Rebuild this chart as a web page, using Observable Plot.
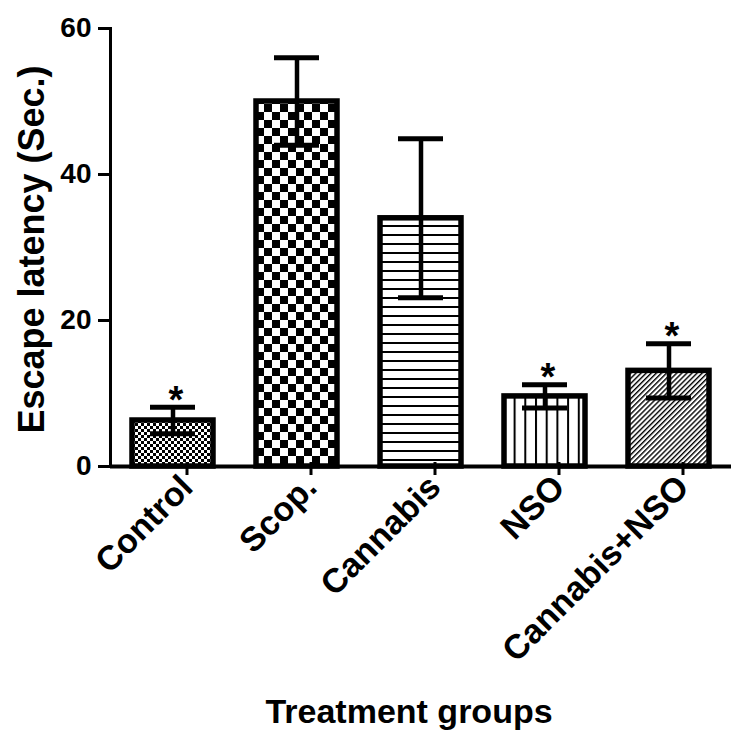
<!DOCTYPE html>
<html>
<head>
<meta charset="utf-8">
<script src="https://cdn.jsdelivr.net/npm/d3@7"></script>
<script src="https://cdn.jsdelivr.net/npm/@observablehq/plot@0.6"></script>
<style>
  html, body { margin: 0; padding: 0; background: #fff; }
</style>
</head>
<body>
<div id="chart"></div>
<script>
// ---- data ----
const groups = ["Control", "Scop.", "Cannabis", "NSO", "Cannabis+NSO"];
const means = [6.3, 50.0, 34.0, 9.6, 13.1];
const errors = [1.8, 6.0, 10.9, 1.6, 3.7];
const significant = [true, false, false, true, true];
const yTicks = [0, 20, 40, 60];
const yTitle = "Escape latency (Sec.)";
const xTitle = "Treatment groups";

const rows = groups.map((g, i) => ({ group: g, mean: means[i], err: errors[i], sig: significant[i], pat: `pat${i}` }));

const font = "'Liberation Sans', Arial, Helvetica, sans-serif";

const marks = [];
rows.forEach(r => {
  marks.push(Plot.barY([r], { x: "group", y: "mean", fill: `url(#${r.pat})`, stroke: "black", strokeWidth: 5.5 }));
});
marks.push(
  Plot.ruleY([0], { stroke: "black", strokeWidth: 4 }),
  Plot.frame({ anchor: "left", stroke: "black", strokeWidth: 3 }),
  Plot.ruleX(rows, { x: "group", y1: d => d.mean - d.err, y2: d => d.mean + d.err, stroke: "black", strokeWidth: 4.5 }),
  Plot.tickY(rows, { x: "group", y: d => d.mean + d.err, stroke: "black", strokeWidth: 5, insetLeft: 18, insetRight: 18 }),
  Plot.tickY(rows, { x: "group", y: d => d.mean - d.err, stroke: "black", strokeWidth: 5, insetLeft: 18, insetRight: 18 }),
  Plot.text(rows.filter(d => d.sig), { x: "group", y: d => d.mean + d.err, text: () => "*", fontSize: 38, dx: 3, dy: -7, fill: "black" }),
  Plot.axisY({ ticks: yTicks, tickSize: 12, tickPadding: 7, fontSize: 28, strokeWidth: 3, label: null, tickFormat: d => String(d) }),
  Plot.axisX({ tickSize: 13, tickPadding: 6, tickRotate: -45, fontSize: 34, strokeWidth: 3, label: null, dx: 14, dy: -4 }),
  Plot.text([yTitle], { text: d => d, frameAnchor: "left", textAnchor: "middle", rotate: -90, dx: -78, dy: 2, fontSize: 36, fill: "black" }),
  Plot.text([xTitle], { text: d => d, frameAnchor: "bottom", dy: 256, dx: -12, fontSize: 34, fill: "black" })
);

const chart = Plot.plot({
  width: 746,
  height: 741,
  marginLeft: 110,
  marginRight: 15,
  marginTop: 28,
  marginBottom: 275,
  x: { domain: groups, paddingInner: 0.344, paddingOuter: 0.172 },
  y: { domain: [0, 60] },
  style: { fontFamily: font, fontWeight: "bold", background: "white", color: "black", overflow: "visible" },
  marks
});

// ---- fill patterns ----
const svg = d3.select(chart);
const defs = svg.insert("defs", ":first-child");
function pattern(id, w, h, transform) {
  const p = defs.append("pattern").attr("id", id).attr("patternUnits", "userSpaceOnUse").attr("width", w).attr("height", h);
  if (transform) p.attr("patternTransform", transform);
  p.append("rect").attr("width", w).attr("height", h).attr("fill", "white");
  return p;
}
// Control: fine checkerboard
let p = pattern("pat0", 6, 6);
p.append("rect").attr("x", 0).attr("y", 0).attr("width", 3).attr("height", 3).attr("fill", "black");
p.append("rect").attr("x", 3).attr("y", 3).attr("width", 3).attr("height", 3).attr("fill", "black");
// Scop.: coarse checkerboard
p = pattern("pat1", 16, 16);
p.append("rect").attr("x", 0).attr("y", 0).attr("width", 8).attr("height", 8).attr("fill", "black");
p.append("rect").attr("x", 8).attr("y", 8).attr("width", 8).attr("height", 8).attr("fill", "black");
// Cannabis: horizontal lines
p = pattern("pat2", 10, 9);
p.append("rect").attr("x", 0).attr("y", 0).attr("width", 10).attr("height", 2).attr("fill", "black");
// NSO: vertical lines
p = pattern("pat3", 10.7, 10);
p.append("rect").attr("x", 0).attr("y", 0).attr("width", 2).attr("height", 10).attr("fill", "black");
// Cannabis+NSO: diagonal hatch
p = pattern("pat4", 3.6, 10, "rotate(45)");
p.append("rect").attr("x", 0).attr("y", 0).attr("width", 1.4).attr("height", 10).attr("fill", "black");

document.getElementById("chart").appendChild(chart);
</script>
</body>
</html>
